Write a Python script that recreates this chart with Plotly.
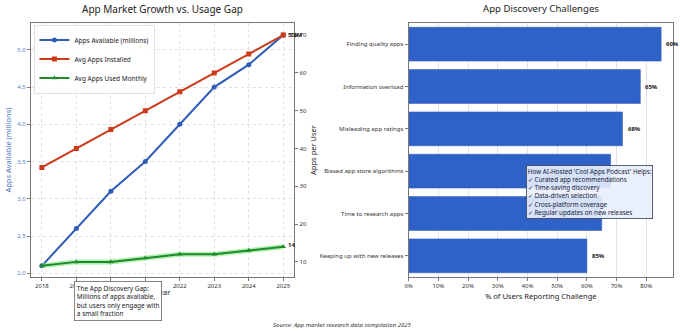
import plotly.graph_objects as go

years = [2018, 2019, 2020, 2021, 2022, 2023, 2024, 2025]
apps_available = [2.1, 2.6, 3.1, 3.5, 4.0, 4.5, 4.8, 5.2]
avg_installed = [35, 40, 45, 50, 55, 60, 65, 70]
avg_used = [9, 10, 10, 11, 12, 12, 13, 14]

challenges = ["Finding quality apps", "Information overload", "Misleading app ratings",
              "Biased app store algorithms", "Time to research apps", "Keeping up with new releases"]
challenge_pct = [85, 78, 72, 68, 65, 60]
challenge_labels = ["60%", "65%", "68%", "72%", "78%", "85%"]
hidden_labels = [False, False, False, True, True, False]  # covered by the info box in the reference

FONT = "Noto Sans"
BLUE = "#2f5cb8"
RED = "#cc3a1a"
GREEN = "#1e8a2a"
BAR = "#2f62c9"

fig = go.Figure()

fig.add_trace(go.Scatter(x=years, y=apps_available, name="Apps Available (millions)",
                         mode="lines+markers", line=dict(color=BLUE, width=2),
                         marker=dict(symbol="circle", size=5, color=BLUE),
                         xaxis="x", yaxis="y"))
fig.add_trace(go.Scatter(x=years, y=avg_installed, name="Avg Apps Installed",
                         mode="lines+markers", line=dict(color=RED, width=2),
                         marker=dict(symbol="square", size=5, color=RED),
                         xaxis="x", yaxis="y2"))
fig.add_trace(go.Scatter(x=years, y=avg_used, showlegend=False, hoverinfo="skip",
                         mode="lines", line=dict(color="rgba(120,230,120,0.6)", width=5),
                         xaxis="x", yaxis="y2"))
fig.add_trace(go.Scatter(x=years, y=avg_used, name="Avg Apps Used Monthly",
                         mode="lines+markers", line=dict(color=GREEN, width=2),
                         marker=dict(symbol="triangle-up", size=5, color=GREEN),
                         xaxis="x", yaxis="y2"))

fig.add_trace(go.Bar(x=challenge_pct, y=challenges, orientation="h", width=0.8,
                     marker=dict(color=BAR, line=dict(color="#2a55b0", width=0.5)),
                     showlegend=False, xaxis="x3", yaxis="y3"))

ann = []
ann.append(dict(x=years[-1], y=apps_available[-1], xref="x", yref="y", text="<b>5.2M</b>",
                showarrow=False, xanchor="left", xshift=3, font=dict(size=6, color="#222")))
ann.append(dict(x=years[-1], y=avg_installed[-1], xref="x", yref="y2", text="<b>70</b>",
                showarrow=False, xanchor="left", xshift=5, font=dict(size=6, color="#222")))
ann.append(dict(x=years[-1], y=avg_used[-1], xref="x", yref="y2", text="<b>14</b>",
                showarrow=False, xanchor="left", xshift=3, yshift=2, font=dict(size=6, color="#222")))
for c, v, lab, hid in zip(challenges, challenge_pct, challenge_labels, hidden_labels):
    if hid:
        continue
    ann.append(dict(x=v, y=c, xref="x3", yref="y3", text="<b>" + lab + "</b>",
                    showarrow=False, xanchor="left", xshift=3, font=dict(size=6, color="#222")))

ann.append(dict(x=70 / 680, y=1 - 281 / 333, xref="paper", yref="paper", xanchor="left", yanchor="top",
                text="The App Discovery Gap:<br>Millions of apps available,<br>but users only engage with<br>a small fraction",
                showarrow=False, align="left", bgcolor="white", bordercolor="#666", borderwidth=0.8,
                borderpad=2, font=dict(size=6.5, color="#222", family=FONT)))
ann.append(dict(x=525 / 680, y=1 - 165 / 333, xref="paper", yref="paper", xanchor="left", yanchor="top",
                text="How AI-Hosted 'Cool Apps Podcast' Helps:<br>✓ Curated app recommendations<br>✓ Time-saving discovery<br>✓ Data-driven selection<br>✓ Cross-platform coverage<br>✓ Regular updates on new releases",
                showarrow=False, align="left", bgcolor="rgba(232,240,252,0.9)", bordercolor="#333a55",
                borderwidth=0.8, borderpad=1, font=dict(size=6.3, color="#1a2040", family=FONT)))
ann.append(dict(x=0.5, y=1 - 325 / 333, xref="paper", yref="paper", xanchor="center", yanchor="middle",
                text="<i>Source: App market research data compilation 2025</i>",
                showarrow=False, font=dict(size=6, color="#333")))
ann.append(dict(x=(27 + 292) / 2 / 680, y=1 - 9 / 333, xref="paper", yref="paper", xanchor="center",
                yanchor="middle", text="App Market Growth vs. Usage Gap",
                showarrow=False, font=dict(size=10, color="#222")))
ann.append(dict(x=(407 + 673) / 2 / 680, y=1 - 9 / 333, xref="paper", yref="paper", xanchor="center",
                yanchor="middle", text="App Discovery Challenges",
                showarrow=False, font=dict(size=9.6, color="#222")))

grid = dict(showgrid=True, gridcolor="#e0e0e0", griddash="dot", gridwidth=0.7)
frame = dict(showline=True, linecolor="#777", linewidth=1, mirror=True, ticks="outside",
             ticklen=3, tickcolor="#777", tickfont=dict(size=6, color="#333"), zeroline=False)

fig.update_layout(
    width=680, height=333, margin=dict(l=0, r=0, t=0, b=0),
    paper_bgcolor="white", plot_bgcolor="white",
    font=dict(family=FONT, color="#222"),
    annotations=ann,
    legend=dict(x=30 / 680, y=1 - 25 / 333, xanchor="left", yanchor="top", bgcolor="rgba(255,255,255,0.9)",
                bordercolor="#ccc", borderwidth=0.6, font=dict(size=6.5), itemwidth=30,
                tracegroupgap=0),
    xaxis=dict(domain=[27 / 680, 292 / 680], range=[2017.68, 2025.32], tickvals=years,
               title=dict(text="Year", font=dict(size=7.5), standoff=0), anchor="y", **grid, **frame),
    yaxis=dict(domain=[1 - 277 / 333, 1 - 23 / 333], range=[1.95, 5.36], dtick=0.5, tickformat=".1f",
               title=dict(text="Apps Available (millions)", font=dict(size=7.5, color="#4a72c4"), standoff=4),
               anchor="x", **grid,
               **{**frame, "tickfont": dict(size=6, color="#5a7cc8")}),
    yaxis2=dict(overlaying="y", side="right", range=[6, 73.2], dtick=10, anchor="x", showgrid=False,
                title=dict(text="Apps per User", font=dict(size=7.5), standoff=4),
                showline=False, ticks="outside", ticklen=3, tickcolor="#777",
                tickfont=dict(size=6, color="#333"), zeroline=False),
    xaxis3=dict(domain=[407 / 680, 673 / 680], range=[0, 89], dtick=10, ticksuffix="%", anchor="y3",
                title=dict(text="% of Users Reporting Challenge", font=dict(size=7.5), standoff=4),
                showgrid=True, gridcolor="#e4e4e4", gridwidth=0.8, **frame),
    yaxis3=dict(domain=[1 - 277 / 333, 1 - 23 / 333], autorange="reversed", anchor="x3",
                showgrid=False, **frame),
)

fig.write_html("out.html")
